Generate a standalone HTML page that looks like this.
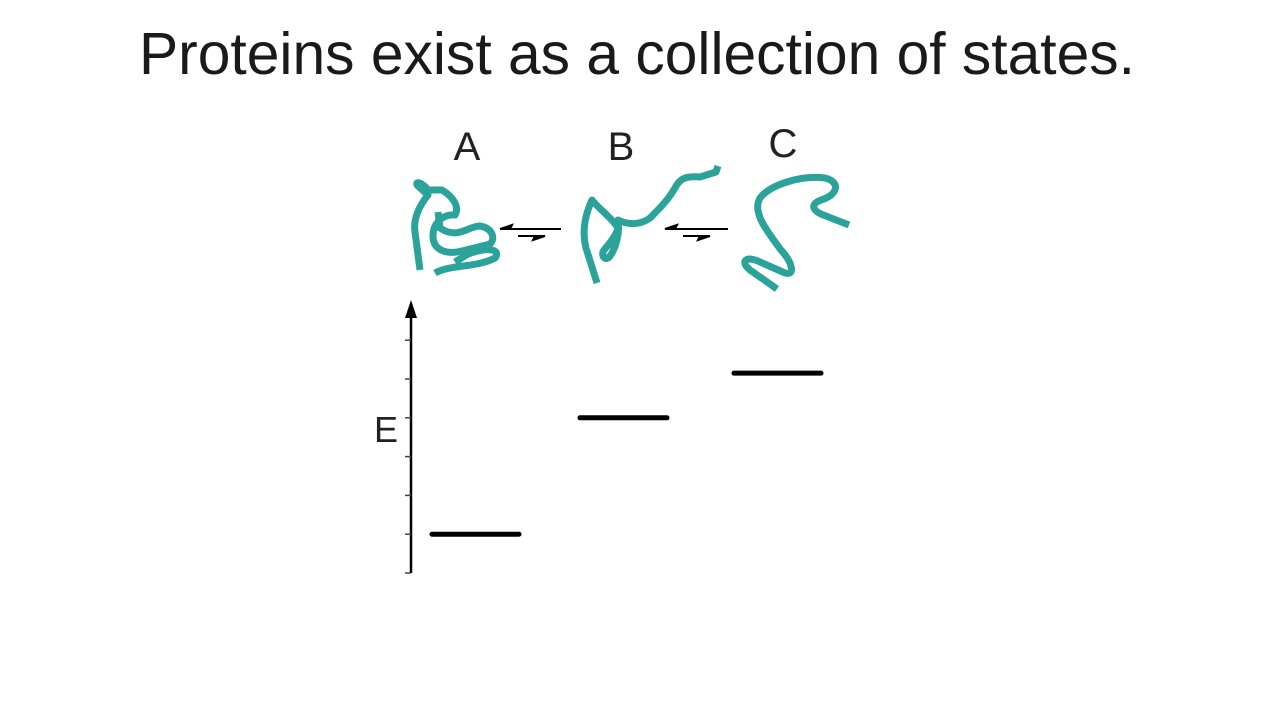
<!DOCTYPE html>
<html><head><meta charset="utf-8"><style>
body{margin:0;background:#fff;}
svg{display:block;font-family:"Liberation Sans",sans-serif;}
</style></head><body>
<svg width="1280" height="720">
<text x="637" y="74" text-anchor="middle" font-size="59" textLength="996" lengthAdjust="spacingAndGlyphs" fill="#1a1a1a">Proteins exist as a collection of states.</text>
<text x="467" y="160" text-anchor="middle" font-size="40" fill="#222">A</text>
<text x="621" y="160" text-anchor="middle" font-size="40" fill="#222">B</text>
<text x="783" y="157" text-anchor="middle" font-size="40" fill="#222">C</text>
<g fill="none" stroke="#2ba39b" stroke-width="7" stroke-linecap="butt" stroke-linejoin="round">
<g>
<path d="M420,270 L415,232 C413,218 420,205 428,195 L418,186 C414,182 420,180 428,190 L442,190 C452,196 460,206 455,215 C444,214 433,222 433,236 C433,250 446,255 462,251 L490,244 C496,238 492,228 480,226 C468,226 458,240 440,228 L438,212"/>
<path d="M435,273 C452,264 476,268 495,258 C501,250 490,246 468,254 L455,262"/>
</g>
<path d="M597,283 L586,248 C582,232 585,215 592,200 C600,210 612,218 618,228 C615,238 608,245 604,250 C600,256 606,262 610,256 C616,248 620,232 618,220 C630,226 642,224 650,218 C660,208 668,200 675,188 C680,178 686,176 700,177 L716,172 L718,166"/>
<path d="M777,289 L750,270 C740,262 745,255 760,262 L785,273 C796,276 792,262 781,250 C766,230 752,212 760,198 C770,185 800,175 825,178 C841,182 838,195 821,200 C808,205 814,212 826,216 L849,225"/>
</g>
<g stroke="#000" stroke-width="2" fill="#000">
<line x1="502" y1="229" x2="561" y2="229"/><path d="M500,229 L512,225 L510,229Z"/>
<line x1="518" y1="236" x2="543" y2="236"/><path d="M545,236 L533,240 L535,236Z"/>
</g>
<g stroke="#000" stroke-width="2" fill="#000">
<line x1="667" y1="229" x2="728" y2="229"/><path d="M665,229 L677,225 L675,229Z"/>
<line x1="683" y1="236" x2="708" y2="236"/><path d="M710,236 L698,240 L700,236Z"/>
</g>
<g id="chart"></g>
</svg>
<script>
const states=["A","B","C"];
const energies=[1,4,5.15];
const ticks=[0,1,2,3,4,5,6];
const ns="http://www.w3.org/2000/svg";
const g=document.getElementById('chart');
const x0=411,yBase=573,step=38.8,bx0=432,bw=87,bgap=151;
const y=v=>yBase-v*step;
function mk(t,a){const e=document.createElementNS(ns,t);for(const k in a)e.setAttribute(k,a[k]);g.appendChild(e);return e;}
let ax=mk('line',{x1:x0,y1:yBase,x2:x0,y2:312,stroke:'#000','stroke-width':2.5});


let ar=mk('path',{d:`M${x0},300 L${x0-6},318 L${x0+6},318Z`,fill:'#000'});


ticks.forEach(t=>{let l=mk('line',{x1:x0-6,x2:x0,y1:y(t),y2:y(t),stroke:'#444','stroke-width':1.5});

});
let lab=mk('text',{x:386,y:442,'text-anchor':'middle','font-size':36,fill:'#222'});lab.textContent='E';


energies.forEach((e,i)=>{let l=mk('line',{x1:bx0+i*bgap-(i===1?3:0),x2:bx0+i*bgap+bw-(i===1?3:0),y1:y(e),y2:y(e),stroke:'#000','stroke-width':5,'stroke-linecap':'round'});

});
</script>
</body></html>
